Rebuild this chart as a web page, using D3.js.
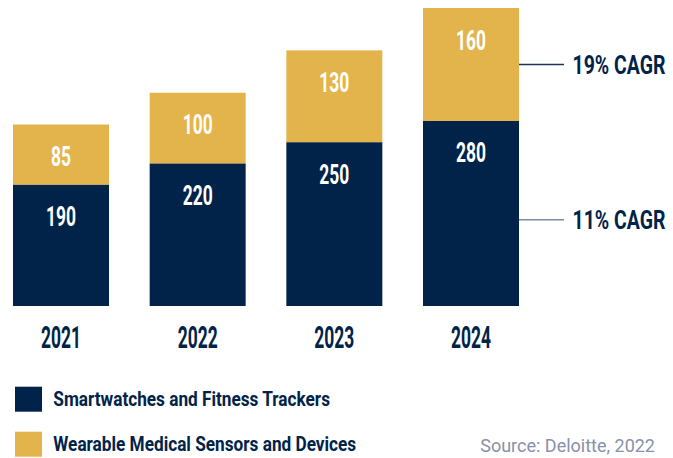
<!DOCTYPE html>
<html>
<head>
<meta charset="utf-8">
<script src="https://cdn.jsdelivr.net/npm/d3@7"></script>
<style>
  html, body { margin: 0; padding: 0; background: #ffffff; }
  svg { display: block; }
</style>
</head>
<body>
<svg id="chart" width="673" height="458"></svg>
<script>
// ---- data ----
const years = ["2021", "2022", "2023", "2024"];
const smartwatches = [190, 220, 250, 280];
const medicalSensors = [85, 100, 130, 160];
const seriesNames = ["Smartwatches and Fitness Trackers", "Wearable Medical Sensors and Devices"];
const cagrLabels = ["11% CAGR", "19% CAGR"];
const sourceText = "Source: Deloitte, 2022";

// ---- style ----
const NAVY = "#012349";
const GOLD = "#e3b44b";
const CONDENSED = "'Liberation Sans Narrow', 'Roboto', 'Liberation Sans', sans-serif";

const svg = d3.select("#chart");

const rows = years.map((y, i) => ({ year: y, s: smartwatches[i], m: medicalSensors[i] }));
const stack = d3.stack().keys(["s", "m"]);
const stacked = stack(rows);
const colors = [NAVY, GOLD];

const x = d3.scaleBand().domain(years).range([13, 519]).paddingInner(0.2976).paddingOuter(0);
const y = d3.scaleLinear().domain([18, 440]).range([306, 8]).clamp(true);

// helper: horizontally squeeze text to a style
function fitScale(sample, size, target) {
  const t = svg.append("text").attr("font-family", CONDENSED).attr("font-weight", 700)
    .attr("font-size", size).text(sample);
  const w = t.node().getComputedTextLength();
  t.remove();
  return target / w;
}
const valueScale = fitScale("190", 28.5, 30);
const yearScale = fitScale("2021", 31.5, 40);
const cagrScale = fitScale("19% CAGR", 26.5, 93);
const legendScale = fitScale(seriesNames[0], 19.5, 277);

// bars
const layers = svg.append("g").selectAll("g").data(stacked).join("g")
  .attr("fill", (d, i) => colors[i]);
layers.selectAll("rect").data(d => d).join("rect")
  .attr("x", d => x(d.data.year))
  .attr("width", x.bandwidth())
  .attr("y", d => y(d[1]))
  .attr("height", d => y(d[0]) - y(d[1]));

// value labels
layers.each(function(layer) {
  d3.select(this).selectAll("text").data(layer).join("text")
    .attr("transform", d => `translate(${x(d.data.year) + x.bandwidth() / 2},${y(d[1]) + 41.5}) scale(${valueScale},1)`)
    .attr("text-anchor", "middle")
    .attr("font-family", CONDENSED).attr("font-weight", 700).attr("font-size", 28.5)
    .attr("fill", "#ffffff")
    .text(d => d[1] - d[0]);
});

// year labels
svg.append("g").selectAll("text").data(years).join("text")
  .attr("transform", d => `translate(${x(d) + x.bandwidth() / 2},347.7) scale(${yearScale},1)`)
  .attr("text-anchor", "middle")
  .attr("font-family", CONDENSED).attr("font-weight", 700).attr("font-size", 31.5)
  .attr("fill", NAVY)
  .text(d => d);

// CAGR annotations for last bar
const last = years.length - 1;
const lineColors = ["#7a8aa3", "#1d3458"];
stacked.forEach((layer, i) => {
  const d = layer[last];
  const ym = y(d[0] + (d[1] - d[0]) / 2);
  const x0 = x(years[last]) + x.bandwidth();
  svg.append("line")
    .attr("x1", x0).attr("x2", 564).attr("y1", ym).attr("y2", ym)
    .attr("stroke", lineColors[i]).attr("stroke-width", 1.5);
  svg.append("text")
    .attr("transform", `translate(619,${ym + 9.5}) scale(${cagrScale},1)`)
    .attr("text-anchor", "middle")
    .attr("font-family", CONDENSED).attr("font-weight", 700).attr("font-size", 26.5)
    .attr("fill", NAVY)
    .text(cagrLabels[i]);
});

// legend
const legend = svg.append("g").selectAll("g").data(seriesNames).join("g")
  .attr("transform", (d, i) => `translate(15,${386.7 + i * 45})`);
legend.append("rect").attr("width", 27).attr("height", 25).attr("fill", (d, i) => colors[i]);
legend.append("text")
  .attr("transform", `translate(38.3,19) scale(${legendScale},1)`)
  .attr("font-family", CONDENSED).attr("font-weight", 700).attr("font-size", 19.5)
  .attr("fill", NAVY)
  .text(d => d);

// source
svg.append("text")
  .attr("x", 655).attr("y", 451.7)
  .attr("text-anchor", "end")
  .attr("font-family", "Roboto, sans-serif").attr("font-size", 18)
  .attr("fill", "#8891a8")
  .text(sourceText);
</script>
</body>
</html>
